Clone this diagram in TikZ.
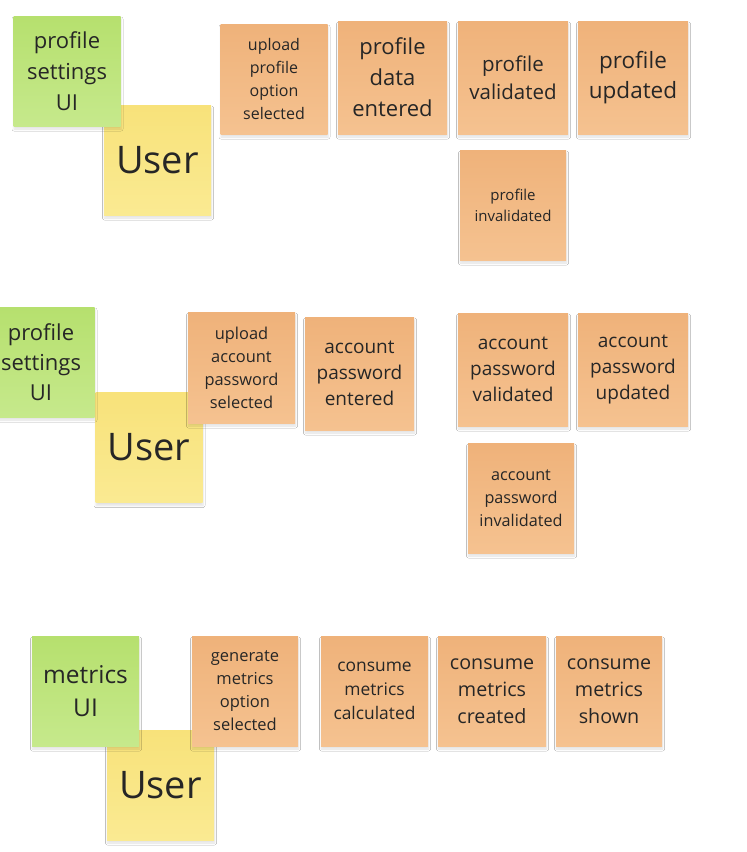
\documentclass[tikz,border=0pt]{standalone}
\usepackage{fontspec}
\setmainfont{Open Sans}
\usetikzlibrary{shadows.blur}
\definecolor{greentop}{HTML}{B6E06E}
\definecolor{greenbot}{HTML}{C6E98C}
\definecolor{yellowtop}{HTML}{F8E27A}
\definecolor{yellowbot}{HTML}{FAEA92}
\definecolor{orangetop}{HTML}{EFB27A}
\definecolor{orangebot}{HTML}{F5C290}
\definecolor{inktext}{HTML}{262626}
\begin{document}
\begin{tikzpicture}[x=1pt, y=-1pt,
    note/.style={inner sep=0pt, align=center, text=inktext, minimum width=107pt, minimum height=110pt,
        blur shadow={shadow xshift=0.5pt, shadow yshift=-3pt, shadow blur radius=2pt, shadow blur steps=6, shadow opacity=12}},
    uinote/.style={note, top color=greentop, bottom color=greenbot},
    usernote/.style={note, top color=yellowtop, bottom color=yellowbot, font=\fontsize{38}{46}\selectfont},
    eventnote/.style={note, top color=orangetop, bottom color=orangebot}]
        \useasboundingbox[fill=white] (0,0) rectangle (747,852);
        \node[usernote] (user1) at (157.5,160) {User};
        \node[usernote] (user2) at (149,447.5) {User};
        \node[usernote] (user3) at (160.5,785) {User};
        \node[uinote, font=\fontsize{22}{31}\selectfont] (ui1) at (67,71) {profile\\settings\\UI};
        \node[eventnote, font=\fontsize{16}{23}\selectfont] (uploadprofile) at (274,79) {upload\\profile\\option\\selected};
        \node[eventnote, minimum width=109pt, minimum height=113pt, font=\fontsize{22}{31}\selectfont] (profileentered) at (392.5,77.5) {profile\\data\\entered};
        \node[eventnote, minimum width=110pt, minimum height=113pt, font=\fontsize{20.5}{28}\selectfont] (profilevalid) at (513,77.5) {profile\\validated};
        \node[eventnote, minimum width=110pt, minimum height=113pt, font=\fontsize{22.5}{30}\selectfont] (profileupdated) at (633,77.5) {profile\\updated};
        \node[eventnote, minimum width=106pt, font=\fontsize{15}{21}\selectfont] (profileinvalid) at (513,205) {profile\\invalidated};
        \node[uinote, font=\fontsize{22}{30}\selectfont] (ui2) at (41,362) {profile\\settings\\UI};
        \node[eventnote, minimum height=111pt, font=\fontsize{16.4}{23}\selectfont] (uploadpassword) at (241.5,367.5) {upload\\account\\password\\selected};
        \node[eventnote, minimum width=109pt, minimum height=113pt, font=\fontsize{19}{26}\selectfont] (passwordentered) at (359.5,373.5) {account\\password\\entered};
        \node[eventnote, minimum width=110pt, minimum height=113pt, font=\fontsize{19}{26}\selectfont] (passwordvalid) at (513,369.5) {account\\password\\validated};
        \node[eventnote, minimum width=110pt, minimum height=113pt, font=\fontsize{19}{26}\selectfont] (passwordupdated) at (633,369.5) {account\\password\\updated};
        \node[eventnote, minimum width=106pt, font=\fontsize{16.2}{23}\selectfont] (passwordinvalid) at (521,498) {account\\password\\invalidated};
        \node[uinote, font=\fontsize{24.5}{33}\selectfont] (ui3) at (85.5,691) {metrics\\UI};
        \node[eventnote, minimum width=106pt, font=\fontsize{16.5}{23}\selectfont] (generatemetrics) at (245,691) {generate\\metrics\\option\\selected};
        \node[eventnote, font=\fontsize{17.4}{24}\selectfont] (metricscalculated) at (374.5,691) {consume\\metrics\\calculated};
        \node[eventnote, minimum width=108pt, font=\fontsize{19.7}{27}\selectfont] (metricscreated) at (492,691) {consume\\metrics\\created};
        \node[eventnote, minimum width=106pt, font=\fontsize{19.7}{27}\selectfont] (metricsshown) at (609,691) {consume\\metrics\\shown};
\end{tikzpicture}
\end{document}
